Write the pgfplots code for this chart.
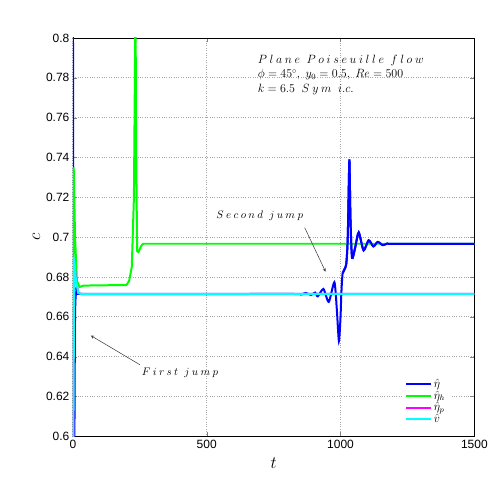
\documentclass[border=0pt]{standalone}
\usepackage{pgfplots}
\pgfplotsset{compat=1.18}
\usepackage{fontspec}
\setmainfont{Liberation Sans}
\definecolor{mblue}{rgb}{0,0,1}
\definecolor{mgreen}{rgb}{0,1,0}
\definecolor{mmag}{rgb}{1,0,1}
\definecolor{mcyan}{rgb}{0,1,1}
\begin{document}
\begin{tikzpicture}[x=1pt,y=1pt]
\begin{axis}[
    at={(0,0)}, anchor=south west,
    scale only axis, width=402pt, height=399pt,
    xmin=0, xmax=1500, ymin=0.6, ymax=0.8,
    xtick={0,500,1000,1500},
    ytick={0.6,0.62,...,0.801},
    yticklabel style={/pgf/number format/fixed},
    /pgf/number format/set thousands separator={},
    /pgf/number format/assume math mode=true,
    tick label style={font=\fontsize{12}{14}\selectfont},
    tick align=inside, major tick length=4pt,
    grid=major, grid style={dotted, gray!70, line width=0.8pt},
    axis line style={black, line width=0.6pt},
    xlabel={$t$}, ylabel={$c$},
    label style={font=\fontsize{16}{18}\selectfont},
    xlabel style={yshift=-3pt},
    ylabel style={yshift=-1pt},
    clip=true,
    legend style={at={(rel axis cs:0.94,0.02)}, anchor=south east, draw=none, fill=white,
      font=\fontsize{12}{14}\selectfont, row sep=-2pt},
    legend cell align=left,
    legend image code/.code={\draw[#1] (0pt,0pt) -- (25pt,0pt);},
]
\addplot[draw=mblue, line width=2pt, smooth, tension=0.4] coordinates {
(0,0.85)(2,0.6)(4,0.55)(8,0.66)(15,0.674)(25,0.6715)(800,0.6715)(850,0.6712)(870,0.6720)(890,0.6710)(905,0.6722)(915,0.6703)(936,0.674)(956,0.6675)(977,0.6774)(986,0.664)(994,0.6478)(1000,0.66)(1003,0.6715)(1008,0.682)(1021,0.6862)(1027,0.70)(1033,0.739)(1037,0.71)(1043,0.6896)(1055,0.695)(1068,0.7024)(1086,0.6934)(1105,0.6984)(1123,0.6954)(1139,0.6976)(1158,0.6960)(1175,0.6968)(1200,0.6966)(1500,0.6966)};
\addlegendentry{$\hat{\eta}$}
\addplot[draw=mgreen, line width=2pt] coordinates {
(0,0.6)(3,0.735)(8,0.70)(15,0.678)(25,0.675)(40,0.6757)(200,0.676)(210,0.678)(220,0.685)(228,0.72)(234,0.82)(236,0.75)(240,0.693)(245,0.6925)(255,0.6955)(262,0.6967)(1500,0.6967)};
\addlegendentry{$\hat{\eta}_h$}
\addplot[draw=mmag, line width=2pt] coordinates {(0,0.55)(5,0.69)(10,0.68)(20,0.672)(30,0.6715)(1500,0.6715)};
\addlegendentry{$\hat{\eta}_p$}
\addplot[draw=mcyan, line width=2pt] coordinates {(0,0.55)(5,0.69)(10,0.68)(20,0.672)(30,0.6715)(1500,0.6715)};
\addlegendentry{$\hat{v}$}
% blue after the second jump lies on top of green
\addplot[draw=mblue, line width=2pt, smooth, tension=0.4, forget plot] coordinates {
(1008,0.682)(1021,0.6862)(1027,0.70)(1033,0.739)(1037,0.71)(1043,0.6896)(1055,0.695)(1068,0.7024)(1086,0.6934)(1105,0.6984)(1123,0.6954)(1139,0.6976)(1158,0.6960)(1175,0.6968)(1200,0.6966)(1500,0.6966)};
\node[anchor=north west, align=left, font=\fontsize{12}{14.5}\selectfont, inner sep=0pt] at (axis cs:690,0.7915)
  {$P\:l\:a\:n\:e\ \ P\:o\:i\:s\:e\:u\:i\:l\:l\:e\ \ f\:l\:o\:w$\\
   $\phi=45^\circ,\ y_0=0.5,\ Re=500$\\
   $k=6.5\ \ S\:y\:m\ \ i.c.$};
\node[font=\fontsize{11}{13}\selectfont] at (axis cs:698,0.7105) {$S\:e\:c\:o\:n\:d\ \ j\:u\:m\:p$};
\draw[-stealth, black!80, line width=0.5pt] (axis cs:866,0.7048) -- (axis cs:944,0.6827);
\node[font=\fontsize{11}{13}\selectfont] at (axis cs:400,0.632) {$F\:i\:r\:s\:t\ \ j\:u\:m\:p$};
\draw[-stealth, black!80, line width=0.5pt] (axis cs:250,0.636) -- (axis cs:67,0.6506);
\end{axis}
\path[use as bounding box] (-73pt,-54pt) rectangle (418pt,437pt);
\end{tikzpicture}
\end{document}
